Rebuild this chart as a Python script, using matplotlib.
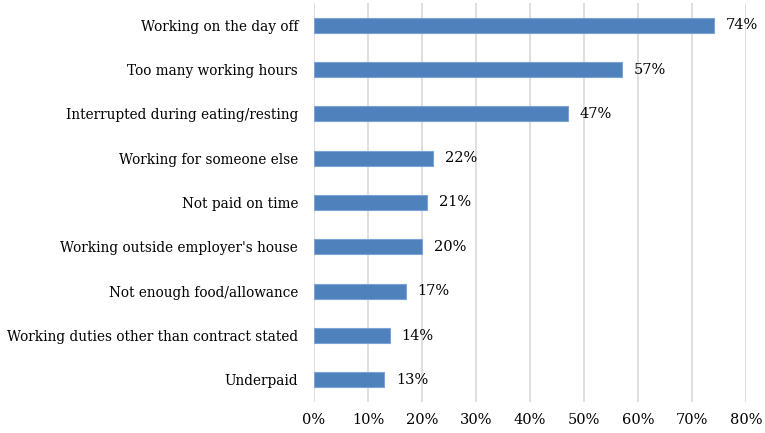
import numpy as np
import matplotlib.pyplot as plt
from matplotlib.ticker import PercentFormatter

categories = [
    "Working on the day off",
    "Too many working hours",
    "Interrupted during eating/resting",
    "Working for someone else",
    "Not paid on time",
    "Working outside employer's house",
    "Not enough food/allowance",
    "Working duties other than contract stated",
    "Underpaid",
]
values = [74, 57, 47, 22, 21, 20, 17, 14, 13]

plt.rcParams['font.family'] = ['DejaVu Serif']

fig = plt.figure(figsize=(7.65, 4.33), dpi=100)
ax = fig.add_axes([314 / 765, 1 - 402 / 433, 432 / 765, 399 / 433])

y = np.arange(len(categories))
ax.barh(y, values, height=0.34, color='#4F81BD', edgecolor='#7BA3D6', linewidth=0.8, zorder=3)

for yi, v in zip(y, values):
    ax.annotate(f"{v}%", (v, yi), xytext=(8.5, 0), textcoords='offset points',
                va='center', ha='left', fontsize=10.5, color='black')

ax.set_yticks(y)
ax.set_yticklabels(categories, fontsize=9.8)
ax.set_ylim(len(categories) - 0.5, -0.5)
ax.set_xlim(0, 80)
ax.set_xticks(np.arange(0, 81, 10))
ax.xaxis.set_major_formatter(PercentFormatter(decimals=0))
ax.tick_params(axis='x', labelsize=10.5, length=0, pad=8)
ax.tick_params(axis='y', length=0, pad=11.5)
ax.grid(axis='x', color='#D9D9D9', linewidth=1.2, zorder=0)
for s in ax.spines.values():
    s.set_visible(False)

fig.savefig('out.png', dpi=100)
